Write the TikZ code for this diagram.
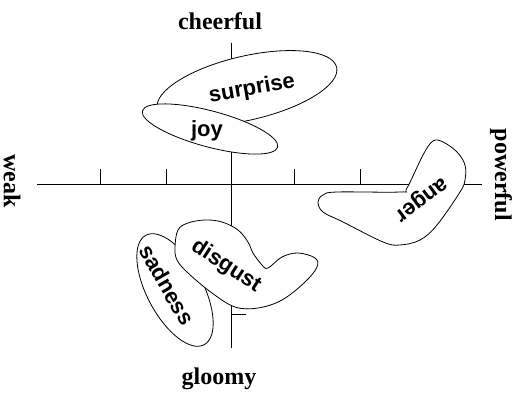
\documentclass[tikz,border=0pt]{standalone}
\usepackage{fontspec}
\setmainfont{Liberation Serif}
\newfontfamily\emofont{Liberation Sans}
\begin{document}
\begin{tikzpicture}[x=1pt,y=1pt,
  axisline/.style={line width=0.8pt},
  blob/.style={draw,fill=white,line width=0.8pt},
  emolabel/.style={font=\emofont\fontsize{22}{24}\selectfont\bfseries,inner sep=0pt},
  axislabel/.style={font=\fontsize{24}{26}\selectfont\bfseries,inner sep=0pt}]
\useasboundingbox (0,0) rectangle (522,393);
% axes
\coordinate (hl) at (37,209);
\coordinate (hr) at (482,209);
\coordinate (vt) at (231,350);
\coordinate (vb) at (231,45);
\draw[axisline] (hl) -- (hr);
\draw[axisline] (vt) -- (vb);
\foreach \x in {100,166,294,360} {\draw[axisline] (\x,209) -- (\x,224);}
\draw[axisline] (231,79) -- (246,79);
% surprise and joy
\draw[blob,rotate around={13:(247,305)}] (247,305) ellipse [x radius=92, y radius=32];
\draw[blob,rotate around={-15:(210,264)}] (210,264) ellipse [x radius=70, y radius=18];
% anger
\draw[blob] plot[smooth cycle,tension=0.6] coordinates {
  (318,191) (323,198) (337,201) (400,201) (407,205) (423,238) (433,252)
  (443,251) (457,241) (465,228) (465,213) (460,201) (437,168) (420,153)
  (400,148) (383,151) (343,171) (323,181)};
% sadness
\draw[blob,rotate around={-62:(175,103)}] (175,103) ellipse [x radius=62, y radius=28];
% disgust
\draw[blob] plot[smooth cycle,tension=0.6] coordinates {
  (178,163) (188,170) (205,173) (222,171) (238,163) (248,151) (253,140)
  (262,128) (268,125) (282,136) (298,140) (315,135) (317,126) (305,111)
  (282,93) (258,85) (235,86) (212,100) (188,120) (177,133) (175,146)};
% emotion labels
\node[emolabel,rotate=10] (surprise) at (252,304) {surprise};
\node[emolabel] (joy) at (207,262) {joy};
\node[emolabel,rotate=217] (anger) at (420,195) {anger};
\node[emolabel,rotate=-33] (disgust) at (226,127) {disgust};
\node[emolabel,rotate=-60] (sadness) at (167,108) {sadness};
% axis labels
\node[axislabel,anchor=base] (cheerful) at (220,363) {cheerful};
\node[axislabel,anchor=base] (gloomy) at (219,8) {gloomy};
\node[axislabel,rotate=-90] (weak) at (12,212) {weak};
\node[axislabel,rotate=-90] (powerful) at (501,218) {powerful};
\end{tikzpicture}
\end{document}
